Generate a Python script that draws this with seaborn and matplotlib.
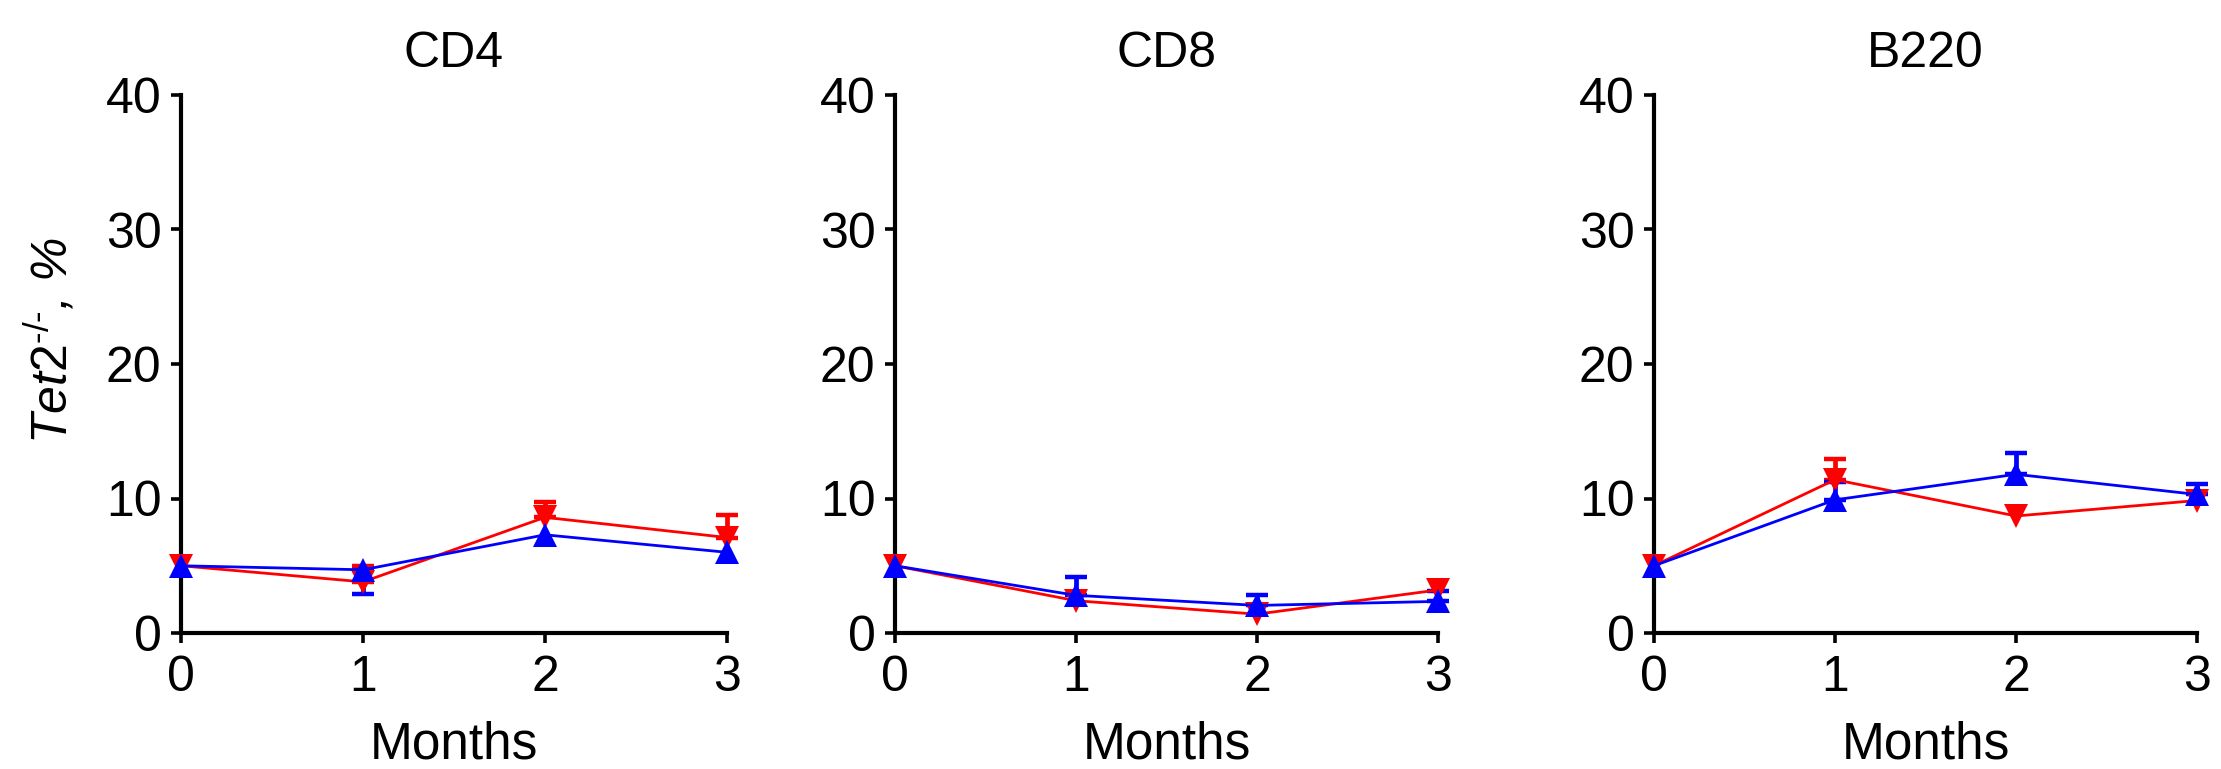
import matplotlib
matplotlib.use("Agg")
import matplotlib.pyplot as plt
import numpy as np
import pandas as pd
import seaborn as sns

MONTHS = [0, 1, 2, 3]
PANELS = ["CD4", "CD8", "B220"]
GROUPS = ["Group 1", "Group 2"]

# Group 1 (red, down triangles)
CD4_RED = [5.0, 3.8, 8.6, 7.1]
CD4_RED_ERR_HI = [0, 1.15, 1.15, 1.7]
CD8_RED = [5.0, 2.4, 1.4, 3.2]
CD8_RED_ERR_HI = [0, 0, 0, 0]
B220_RED = [5.0, 11.4, 8.7, 9.85]
B220_RED_ERR_HI = [0, 1.55, 0, 0]

# Group 2 (blue, up triangles)
CD4_BLUE = [5.0, 4.7, 7.3, 6.0]
CD4_BLUE_ERR_LO = [0, 1.8, 0, 0]
CD8_BLUE = [5.0, 2.8, 2.05, 2.35]
CD8_BLUE_ERR_HI = [0, 1.4, 0.8, 0.8]
B220_BLUE = [5.0, 9.9, 11.8, 10.3]
B220_BLUE_ERR_HI = [0, 1.35, 1.6, 0.8]

RED = "#ff0000"
BLUE = "#0000ff"

sns.set_style("ticks")
plt.rcParams["font.family"] = ["Liberation Sans", "DejaVu Sans"]
plt.rcParams["mathtext.fontset"] = "custom"
plt.rcParams["mathtext.rm"] = "Liberation Sans"
plt.rcParams["mathtext.it"] = "Liberation Sans:italic"
for key in ["text.color", "axes.labelcolor", "xtick.color", "ytick.color", "axes.edgecolor"]:
    plt.rcParams[key] = "black"


def build_frame():
    rows = []
    series = {
        "CD4": (CD4_RED, CD4_BLUE),
        "CD8": (CD8_RED, CD8_BLUE),
        "B220": (B220_RED, B220_BLUE),
    }
    for panel, (red, blue) in series.items():
        for m, r, b in zip(MONTHS, red, blue):
            rows.append({"panel": panel, "month": m, "group": GROUPS[0], "value": r})
            rows.append({"panel": panel, "month": m, "group": GROUPS[1], "value": b})
    return pd.DataFrame(rows)


df = build_frame()

errors = {
    "CD4": {GROUPS[0]: ([0] * 4, CD4_RED_ERR_HI), GROUPS[1]: (CD4_BLUE_ERR_LO, [0] * 4)},
    "CD8": {GROUPS[0]: ([0] * 4, CD8_RED_ERR_HI), GROUPS[1]: ([0] * 4, CD8_BLUE_ERR_HI)},
    "B220": {GROUPS[0]: ([0] * 4, B220_RED_ERR_HI), GROUPS[1]: ([0] * 4, B220_BLUE_ERR_HI)},
}

W, H = 2221, 769
fig = plt.figure(figsize=(W / 100, H / 100), dpi=100)
lefts = [181, 895, 1654]
rights = [727, 1438, 2197]
y_top, y_bot = 95, 633

palette = {GROUPS[0]: RED, GROUPS[1]: BLUE}
markers = {GROUPS[0]: "v", GROUPS[1]: "^"}

for i, panel in enumerate(PANELS):
    ax = fig.add_axes([lefts[i] / W, (H - y_bot) / H, (rights[i] - lefts[i]) / W, (y_bot - y_top) / H])
    sub = df[df["panel"] == panel]
    sns.lineplot(
        data=sub, x="month", y="value", hue="group", style="group",
        hue_order=GROUPS, style_order=GROUPS, palette=palette, markers=markers,
        dashes=False, markersize=17, markeredgewidth=0, linewidth=2.0,
        legend=False, ax=ax, clip_on=False, zorder=3,
    )
    for g in GROUPS:
        vals = sub[sub["group"] == g]["value"].to_numpy()
        lo, hi = errors[panel][g]
        lo = np.array(lo, dtype=float)
        hi = np.array(hi, dtype=float)
        mask = (lo > 0) | (hi > 0)
        if mask.any():
            ax.errorbar(
                np.array(MONTHS)[mask], vals[mask], yerr=[lo[mask], hi[mask]],
                fmt="none", ecolor=palette[g], elinewidth=3.4, capsize=8, capthick=3.2,
                clip_on=False, zorder=2,
            )
    ax.set_xlim(0, 3)
    ax.set_ylim(0, 40)
    ax.set_xticks(MONTHS)
    ax.set_yticks([0, 10, 20, 30, 40])
    sns.despine(ax=ax)
    for side in ["left", "bottom"]:
        ax.spines[side].set_linewidth(3)
        ax.spines[side].set_color("black")
    ax.tick_params(axis="both", length=7, width=2.6, labelsize=36, pad=7, color="black",
                   labelcolor="black")
    ax.tick_params(axis="x", pad=9)
    ax.set_title(panel, fontsize=36, pad=20, color="black")
    ax.set_xlabel("Months", fontsize=37, labelpad=14, color="black")
    ax.set_ylabel("")

fig.text(50 / W, 1 - 340 / H, r"$\mathit{Tet2}^{\text{-/-}}$, %", rotation=90,
         ha="center", va="center", fontsize=36, style="italic", color="black")

fig.savefig("out.png", dpi=100)
